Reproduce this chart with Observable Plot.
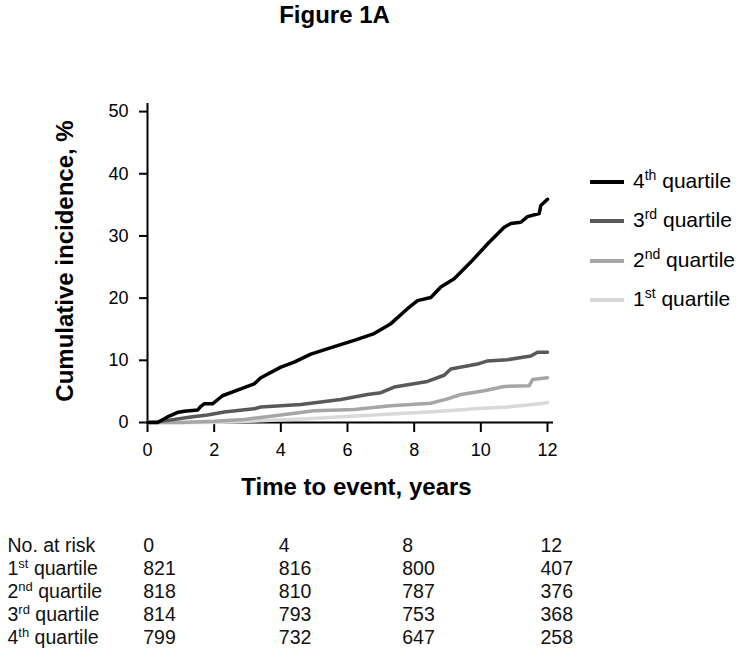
<!DOCTYPE html>
<html><head><meta charset="utf-8">
<script src="https://cdn.jsdelivr.net/npm/d3@7"></script>
<script src="https://cdn.jsdelivr.net/npm/@observablehq/plot@0.6"></script>
<style>
html,body{margin:0;padding:0;background:#fff;}
#wrap{position:relative;width:745px;height:657px;font-family:"Liberation Sans",Arial,sans-serif;color:#000;overflow:hidden;}
#wrap svg{position:absolute;left:0;}
.li{position:absolute;left:590px;display:flex;align-items:center;white-space:nowrap;font-size:21px;line-height:24px;height:24px;}
.sw{width:34px;height:4px;margin-right:9px;}
.li sup{font-size:14px;vertical-align:0;position:relative;top:-8px;}
</style></head><body><div id="wrap"></div>
<script>
// ---- text ----
const title = "Figure 1A";
const xLabel = "Time to event, years";
const yLabel = "Cumulative incidence, %";
const xTicks = [0, 2, 4, 6, 8, 10, 12];
const yTicks = [0, 10, 20, 30, 40, 50];

// ---- series ----
const seriesNames = ["1st quartile", "2nd quartile", "3rd quartile", "4th quartile"];
const seriesColors = ["#d9d9d9", "#a6a6a6", "#595959", "#000000"];

const q1T = [0, 2.0, 3.0, 4.8, 6.8, 8.8, 9.8, 10.8, 11.9, 12.0];
const q1V = [0, 0, 0.2, 0.6, 1.2, 1.8, 2.2, 2.5, 3.1, 3.2];

const q2T = [0, 1.0, 2.0, 2.9, 4.0, 5.0, 6.2, 7.3, 8.5, 9.0, 9.4, 10.1, 10.7, 11.45, 11.55, 12.0];
const q2V = [0, 0, 0.2, 0.5, 1.2, 1.9, 2.1, 2.7, 3.1, 3.8, 4.5, 5.1, 5.8, 5.9, 6.9, 7.2];

const q3T = [0, 0.3, 1.3, 1.8, 2.3, 3.2, 3.4, 4.6, 5.8, 6.0, 6.6, 7.0, 7.4, 8.4, 8.9, 9.1, 9.9, 10.2, 10.8, 11.5, 11.7, 12.0];
const q3V = [0, 0.1, 0.9, 1.2, 1.7, 2.2, 2.5, 2.9, 3.7, 3.9, 4.5, 4.8, 5.7, 6.6, 7.6, 8.6, 9.4, 9.9, 10.1, 10.7, 11.3, 11.3];

const q4T = [0, 0.3, 0.6, 0.89, 1.1, 1.5, 1.6, 1.7, 1.95, 2.25, 2.8, 3.2, 3.4, 4.0, 4.4, 4.9, 5.6, 6.2, 6.8, 7.3, 7.8, 8.1, 8.5, 8.8, 9.2, 9.7, 10.2, 10.7, 10.9, 11.2, 11.4, 11.75, 11.8, 12.0];
const q4V = [0, 0, 0.9, 1.6, 1.8, 2.0, 2.6, 3.0, 3.0, 4.3, 5.4, 6.2, 7.2, 8.9, 9.7, 11.0, 12.2, 13.2, 14.3, 15.9, 18.3, 19.6, 20.1, 21.8, 23.1, 25.8, 28.7, 31.4, 32.0, 32.2, 33.1, 33.6, 34.9, 35.9];

// ---- risk table ----
const riskHeader = "No. at risk";
const riskTimes = [0, 4, 8, 12];
const risk1 = [821, 816, 800, 407];
const risk2 = [818, 810, 787, 376];
const risk3 = [814, 793, 753, 368];
const risk4 = [799, 732, 647, 258];

// ---- build ----
const seriesT = [q1T, q2T, q3T, q4T];
const seriesV = [q1V, q2V, q3V, q4V];
const curves = [];
seriesNames.forEach((s, i) => seriesT[i].forEach((t, j) => curves.push({series: s, t, v: seriesV[i][j]})));

const FONT = '"Liberation Sans", Arial, sans-serif';
const wrap = document.getElementById("wrap");

const chart = Plot.plot({
  width: 745, height: 510,
  marginTop: 103, marginBottom: 88, marginLeft: 147, marginRight: 192,
  style: {fontFamily: FONT, fontSize: "18px", color: "#000", background: "transparent"},
  x: {domain: [0, 12.18]},
  y: {domain: [0, 51.3]},
  color: {domain: seriesNames, range: seriesColors},
  marks: [
    Plot.axisX({ticks: xTicks, tickSize: 10, tickPadding: 11, fontSize: 18, strokeWidth: 2, label: null, tickFormat: d => String(d)}),
    Plot.axisY({ticks: yTicks, tickSize: 8, tickPadding: 11, fontSize: 18, strokeWidth: 2, label: null, tickFormat: d => String(d)}),
    Plot.ruleX([0], {strokeWidth: 2}),
    Plot.ruleY([0], {strokeWidth: 2}),
    Plot.line(curves, {x: "t", y: "v", z: "series", stroke: "series", strokeWidth: 3.5}),
    Plot.text([title], {text: d => d, frameAnchor: "top", dx: -16, dy: -88, textAnchor: "middle", lineAnchor: "middle", fontSize: 24, fontWeight: "bold"}),
    Plot.text([xLabel], {text: d => d, frameAnchor: "bottom", dx: 6, dy: 65, textAnchor: "middle", lineAnchor: "middle", fontSize: 24, fontWeight: "bold"}),
    Plot.text([yLabel], {text: d => d, frameAnchor: "left", dx: -82, dy: -2, rotate: -90, textAnchor: "middle", lineAnchor: "middle", fontSize: 24, fontWeight: "bold"})
  ]
});
chart.style.top = "0px";
wrap.appendChild(chart);

// risk table
const rowNames = [riskHeader, ...seriesNames];
const riskRows = [riskTimes, risk1, risk2, risk3, risk4];
const cells = [];
rowNames.forEach((r, i) => riskTimes.forEach((t, j) => cells.push({row: r, t, n: String(riskRows[i][j])})));

const table = Plot.plot({
  width: 745, height: 147, margin: 0,
  style: {fontFamily: FONT, fontSize: "19px", color: "#000", background: "transparent"},
  x: {type: "linear", domain: riskTimes, range: [142.7, 278.3, 401.7, 540], axis: null},
  y: {type: "point", domain: rowNames, range: [34, 128.3], padding: 0, axis: null},
  marks: [
    Plot.text(cells, {x: "t", y: "row", text: "n", textAnchor: "start", lineAnchor: "middle", fontSize: 19.5, fill: "#111"}),
    Plot.text(rowNames, {y: d => d, text: d => d, frameAnchor: "left", dx: 7, textAnchor: "start", lineAnchor: "middle", fontSize: 19.5, fill: "#111"})
  ]
});
table.style.top = "510px";
wrap.appendChild(table);

// superscript ordinals in table labels
const NS = "http://www.w3.org/2000/svg";
table.querySelectorAll("text").forEach(t => {
  const m = /^(\d)(st|nd|rd|th)( ?quartile)$/.exec(t.textContent);
  if (!m) return;
  while (t.firstChild) t.removeChild(t.firstChild);
  t.append(m[1]);
  const s = document.createElementNS(NS, "tspan");
  s.setAttribute("font-size", "13"); s.setAttribute("dy", "-7"); s.textContent = m[2];
  t.append(s);
  const r = document.createElementNS(NS, "tspan");
  r.setAttribute("dy", "7"); r.textContent = m[3];
  t.append(r);
});

// legend (top to bottom: 4th .. 1st)
const legendCenters = [181.7, 221, 260.7, 300];
seriesNames.slice().reverse().forEach((s, i) => {
  const color = seriesColors[seriesNames.indexOf(s)];
  const m = /^(\d)(st|nd|rd|th) (.*)$/.exec(s);
  const d = document.createElement("div");
  d.className = "li";
  d.style.top = (legendCenters[i] - 12) + "px";
  d.innerHTML = `<div class="sw" style="background:${color}"></div><span>${m[1]}<sup>${m[2]}</sup> ${m[3]}</span>`;
  wrap.appendChild(d);
});
</script></body></html>
